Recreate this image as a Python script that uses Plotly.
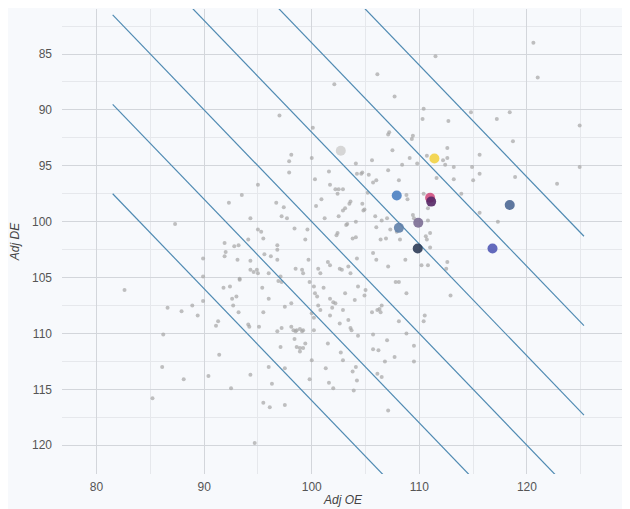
import plotly.graph_objects as go

# Small (league) points: adjusted offensive / defensive efficiency
LEAGUE_OE = [106.1,102.1,107.7,97.0,100.1,107.2,107.1,109.4,109.3,107.5,109.1,109.8,98.1,97.9,100.0,104.1,105.6,108.4,
             97.9,101.6,104.2,104.6,104.7,105.3,107.1,100.3,106.0,105.7,108.1,95.0,101.7,102.5,102.2,102.9,102.4,105.2,
             108.8,108.9,93.5,92.3,96.7,100.4,100.9,103.6,103.5,104.7,104.9,104.8,102.9,103.1,97.4,97.2,97.7,94.3,102.5,
             105.9,106.5,107.0,109.4,109.5,101.2,103.2,103.3,104.1,95.0,95.3,102.4,102.3,98.4,99.6,106.0,107.3,107.9,
             108.2,103.8,104.1,106.4,106.9,99.4,95.5,91.9,92.8,93.2,96.8,
             87.3,94.1,92.0,91.9,89.9,93.1,94.3,96.8,95.6,96.2,96.8,94.3,94.6,94.9,95.0,96.0,89.9,93.3,97.1,
             91.8,92.4,93.3,89.9,92.6,93.0,95.4,96.0,96.9,97.2,86.6,87.9,88.9,89.4,92.7,93.2,91.3,91.1,94.1,94.2,95.1,
             95.5,96.8,97.2,86.2,97.1,97.5,91.4,86.1,88.1,90.4,94.3,96.0,96.3,97.5,92.5,
             82.6,85.2,
             99.7,98.5,99.1,99.2,100.6,100.8,101.5,101.7,102.6,102.8,103.4,103.6,104.2,105.7,106.0,107.1,108.7,110.2,
             99.8,100.2,100.3,100.5,101.1,101.7,102.0,101.9,102.2,103.1,104.0,104.3,105.0,104.9,98.1,100.6,100.8,102.9,
             100.0,100.2,101.7,102.6,103.4,103.6,103.7,98.1,98.3,98.6,98.9,99.2,98.5,99.1,100.2,104.3,98.4,99.4,98.6,
             98.9,99.2,98.9,101.5,102.7,102.9,100.0,101.3,103.8,104.1,104.2,99.8,101.6,102.0,105.6,106.1,106.3,106.4,
             106.5,108.1,105.7,107.0,105.7,106.2,107.7,106.8,106.1,106.5,108.8,109.5,109.5,108.8,107.8,108.1,110.5,
             95.5,96.1,97.5,94.7,103.9,107.1,
             120.6,111.5,121.0,110.4,110.3,112.7,114.8,117.2,118.4,124.9,118.7,112.6,115.6,110.7,112.2,112.6,112.4,
             113.2,114.9,124.9,111.6,113.2,115.0,115.6,118.9,122.8,110.4,113.9,110.8,115.6,117.3,110.8,111.0,110.6,
             110.7,111.0,
             110.8,112.6,112.5,112.9,110.4]
LEAGUE_DE = [86.8,87.7,88.8,90.5,91.6,92.0,92.2,92.3,92.6,93.6,94.3,94.8,94.0,94.6,94.3,94.8,94.5,94.9,
             95.6,95.5,95.7,95.7,95.6,95.8,95.4,96.2,96.3,96.5,96.3,96.7,96.7,97.1,97.1,97.1,97.5,97.4,
             97.6,98.0,97.6,98.3,98.3,98.6,98.0,98.2,98.4,98.4,98.9,99.0,99.0,98.8,98.7,99.5,99.7,99.7,99.5,
             99.5,99.9,99.7,99.4,99.7,99.7,100.3,100.2,100.0,100.7,100.9,101.0,101.2,100.6,100.7,100.5,100.7,100.9,
             101.6,101.5,101.4,101.6,101.5,101.6,101.5,101.9,102.2,102.1,102.1,
             100.2,101.6,102.7,103.1,103.3,103.4,103.5,102.5,102.9,103.1,103.4,104.3,104.5,104.3,104.6,104.6,104.9,105.1,104.9,
             105.9,105.8,105.2,107.1,106.9,106.7,105.9,106.9,105.3,105.4,107.7,108.0,107.5,108.4,107.5,108.1,108.9,109.3,109.2,109.4,109.4,
             108.1,109.8,109.5,110.1,111.2,107.6,111.9,113.0,114.1,113.8,113.7,113.0,114.5,113.1,114.9,
             106.1,115.8,
             103.4,104.2,104.3,104.6,104.2,104.6,103.6,103.9,104.2,104.3,104.0,104.6,103.3,102.8,103.4,104.0,103.4,103.9,
             105.4,105.8,106.4,106.7,105.9,106.9,107.2,107.7,107.3,106.4,107.0,105.8,106.1,106.6,107.3,107.5,107.9,107.9,
             108.2,108.6,108.4,109.1,108.8,109.5,109.7,109.4,109.7,109.7,109.6,109.7,109.8,109.8,109.7,110.2,110.5,110.9,111.2,
             111.3,111.3,111.6,110.9,111.7,112.4,112.4,113.1,113.4,113.0,114.2,114.1,114.4,114.9,108.1,107.9,107.8,108.1,
             107.5,108.9,110.1,110.6,111.4,111.5,112.1,112.5,113.6,113.9,110.0,111.1,112.5,106.4,105.4,105.4,108.4,
             116.2,116.6,116.4,119.8,115.1,116.9,
             84.0,85.2,87.1,89.9,90.8,91.0,90.2,90.8,90.2,91.4,92.8,93.4,94.0,94.1,94.5,94.3,94.9,
             95.1,95.1,95.1,96.1,96.2,96.3,95.7,96.0,96.6,97.5,97.5,98.8,99.2,100.0,99.9,101.0,101.3,
             101.6,102.3,
             103.9,103.6,104.2,106.6,108.9]

# Highlighted teams
TEAM_OE = [102.7, 111.4, 111.0, 111.1, 107.9, 118.4, 109.9, 108.1, 109.85, 116.8]
TEAM_DE = [93.65, 94.35, 97.85, 98.2, 97.65, 98.5, 100.1, 100.55, 102.4, 102.4]
TEAM_COLORS = ["#d2d2d2", "#f2d144", "#d04f7f", "#552766", "#4a80c2", "#4d6895",
               "#7b6d93", "#5f80a8", "#2c3b57", "#5159b5"]

# Iso-net-efficiency guide lines (OE - DE)
NET_LEVELS = [-16, -8, 0, 8, 16, 24]
LINE_OE = [81.5, 125.3]

X_TICKS = [80, 90, 100, 110, 120]
Y_TICKS = [85, 90, 95, 100, 105, 110, 115, 120]

fig = go.Figure()

fig.add_trace(go.Scatter(
    x=LEAGUE_OE, y=LEAGUE_DE, mode="markers",
    marker=dict(size=4, color="rgba(165,165,165,0.7)"),
    hoverinfo="skip", showlegend=False))

for net in NET_LEVELS:
    fig.add_trace(go.Scatter(
        x=LINE_OE, y=[v - net for v in LINE_OE], mode="lines",
        line=dict(color="#4f8ab2", width=1.2),
        hoverinfo="skip", showlegend=False))

fig.add_trace(go.Scatter(
    x=TEAM_OE, y=TEAM_DE, mode="markers",
    marker=dict(size=10, color=TEAM_COLORS, opacity=0.9),
    showlegend=False))

bg = "#f7f9fc"
# page body has an 8px default margin, so the figure is sized to fit the window
fig.update_layout(
    width=622, height=501,
    margin=dict(l=54, r=6, t=1, b=35),
    paper_bgcolor=bg, plot_bgcolor=bg,
    font=dict(family="Liberation Sans, Arial, sans-serif", size=12, color="#555555"),
)
fig.update_xaxes(
    range=[76.79, 129.02], tickvals=X_TICKS, showline=False, zeroline=False,
    gridcolor="#d3d6db", gridwidth=1,
    minor=dict(dtick=5, tick0=0, showgrid=True, gridcolor="#e6e8ec"),
    ticks="", ticklabelstandoff=4, tickfont=dict(size=12, color="#555555"),
    title=dict(text="<i>Adj OE</i>", font=dict(size=12, color="#444444"), standoff=2),
    automargin=False,
)
fig.update_yaxes(
    range=[122.57, 80.97], tickvals=Y_TICKS, showline=False, zeroline=False,
    gridcolor="#d3d6db", gridwidth=1,
    minor=dict(dtick=2.5, tick0=0, showgrid=True, gridcolor="#e6e8ec"),
    ticks="", ticklabelstandoff=9, tickfont=dict(size=12, color="#555555"),
    title=dict(text="<i>Adj DE</i>", font=dict(size=12, color="#444444"), standoff=10),
    automargin=False,
)

fig.write_html("out.html")
